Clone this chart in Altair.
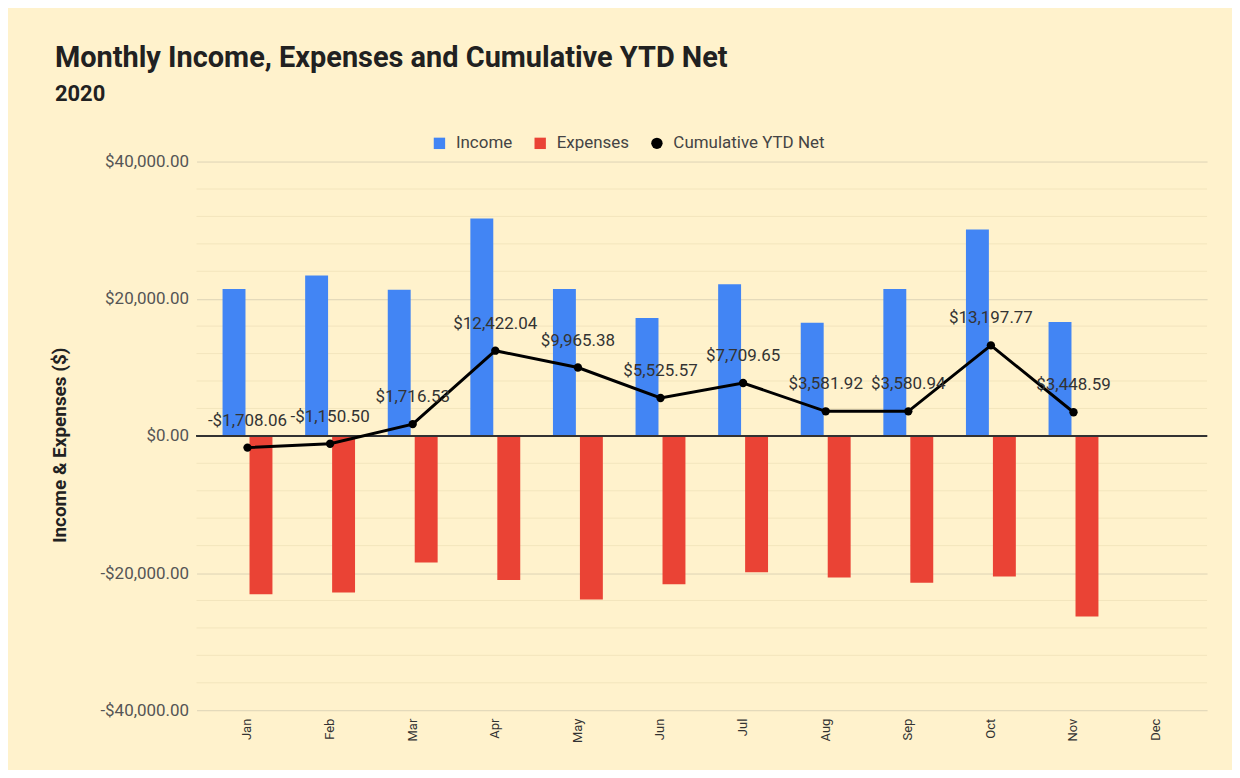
import altair as alt
import pandas as pd

months = ["Jan", "Feb", "Mar", "Apr", "May", "Jun", "Jul", "Aug", "Sep", "Oct", "Nov", "Dec"]
income = [21400, 23400, 21300, 31700, 21400, 17200, 22100, 16500, 21400, 30100, 16600]
expenses = [23100, 22850, 18450, 21000, 23850, 21650, 19900, 20650, 21400, 20500, 26350]
cumulative = [-1708.06, -1150.50, 1716.53, 12422.04, 9965.38, 5525.57, 7709.65,
              3581.92, 3580.94, 13197.77, 3448.59]
series_names = ["Income", "Expenses", "Cumulative YTD Net"]
series_colors = ["#4285F4", "#EA4335", "#000000"]
major_ticks = [-40000, -20000, 0, 20000, 40000]
minor_ticks = [-36000, -32000, -28000, -24000, -16000, -12000, -8000, -4000,
               4000, 8000, 12000, 16000, 24000, 28000, 32000, 36000]


def money(v):
    return ("-$" if v < 0 else "$") + f"{abs(v):,.2f}"


bar_rows = []
for m, i, e in zip(months, income, expenses):
    bar_rows.append({"month": m, "series": "Income", "value": i})
    bar_rows.append({"month": m, "series": "Expenses", "value": -e})
bars_df = pd.DataFrame(bar_rows)

net_df = pd.DataFrame({
    "month": months[:len(cumulative)],
    "net": cumulative,
    "label": [money(v) for v in cumulative],
    "series": "Cumulative YTD Net",
})
minor_df = pd.DataFrame({"v": minor_ticks})

FONT = "Roboto"
yscale = alt.Scale(domain=[-40000, 40000], nice=False, zero=False)
xscale = alt.Scale(domain=months, paddingInner=0.396, paddingOuter=0.315)
color_scale = alt.Scale(domain=series_names, range=series_colors)

yaxis = alt.Axis(title="Income & Expenses ($)", values=major_ticks,
                 labelExpr="(datum.value < 0 ? '-$' : '$') + format(abs(datum.value), ',.2f')",
                 domain=False, ticks=False, grid=True)

minor = alt.Chart(minor_df).mark_rule(color="#f3e5bd", strokeWidth=1).encode(
    y=alt.Y("v:Q", scale=yscale, axis=yaxis)
)

bars = alt.Chart(bars_df).mark_bar().encode(
    x=alt.X("month:N", scale=xscale, sort=months,
            axis=alt.Axis(title=None, labelAngle=270, domain=False, ticks=False, grid=False)),
    xOffset=alt.XOffset("series:N", scale=alt.Scale(domain=["Income", "Expenses"],
                                                    paddingInner=0.15, paddingOuter=0)),
    y=alt.Y("value:Q", scale=yscale, axis=yaxis),
    color=alt.Color("series:N", scale=color_scale,
                    legend=alt.Legend(title=None, orient="none", direction="horizontal",
                                      legendX=235, legendY=-27, labelFontSize=17,
                                      labelFont=FONT, labelColor="#444444", symbolSize=130,
                                      symbolOpacity=1, symbolStrokeWidth=0,
                                      labelOffset=8, columnPadding=19)),
)

zero = alt.Chart(net_df).mark_rule(color="#333333", strokeWidth=1).encode(y=alt.datum(0))

line = alt.Chart(net_df).mark_line(color="black", strokeWidth=3).encode(
    x=alt.X("month:N", scale=xscale, sort=months),
    y=alt.Y("net:Q", scale=yscale),
)

points = alt.Chart(net_df).mark_point(filled=True, size=70, opacity=1).encode(
    x=alt.X("month:N", scale=xscale, sort=months),
    y=alt.Y("net:Q", scale=yscale),
    color=alt.Color("series:N", scale=color_scale),
    shape=alt.Shape("series:N", scale=alt.Scale(domain=series_names,
                                                range=["square", "square", "circle"])),
)

labels = alt.Chart(net_df).mark_text(dy=-27, fontSize=17, font=FONT, color="#333333",
                                     baseline="middle", align="center").encode(
    x=alt.X("month:N", scale=xscale, sort=months),
    y=alt.Y("net:Q", scale=yscale),
    text="label:N",
)

chart = alt.layer(minor, bars, zero, line, points, labels).properties(
    width=1013,
    height=550,
    padding={"left": 189, "top": 153, "right": 25, "bottom": 59},
    autosize=alt.AutoSizeParams(type="none"),
    background="#fff2cc",
    title=alt.TitleParams(
        text="Monthly Income, Expenses and Cumulative YTD Net",
        subtitle="2020",
        anchor="start", frame="group", dx=-142, dy=-4, offset=26,
        font=FONT, fontSize=29, fontWeight="bold", color="#212121",
        subtitleFont=FONT, subtitleFontSize=22, subtitleFontWeight="bold",
        subtitleColor="#212121", subtitlePadding=11,
    ),
).configure_view(
    stroke=None
).configure_axisY(
    labelFontSize=17, labelColor="#555555", labelFont=FONT, labelPadding=8,
    gridColor="#ddd3b6",
    titleFontSize=19, titleFont=FONT, titleFontWeight="bold", titleColor="#222222",
    titleX=-127, titleY=284,
).configure_axisX(
    labelFontSize=13, labelColor="#333333", labelFont=FONT, labelPadding=8,
)

chart.save("out.html", embed_options={"renderer": "svg", "actions": False})
